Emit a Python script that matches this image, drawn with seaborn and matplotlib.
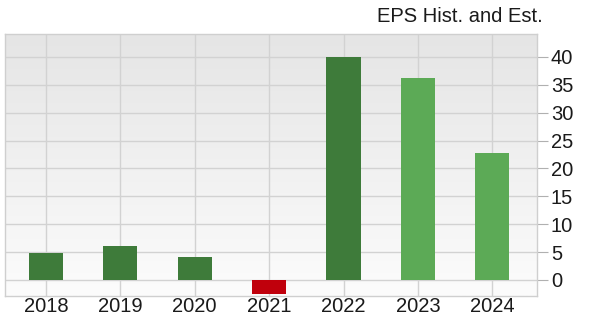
import numpy as np
import pandas as pd
import matplotlib
matplotlib.use("Agg")
import matplotlib.pyplot as plt
import seaborn as sns

years = ["2018", "2019", "2020", "2021", "2022", "2023", "2024"]
eps = [4.8, 6.1, 4.1, -2.6, 40.0, 36.2, 22.8]
bar_colors = ["#3e7b3a", "#3e7b3a", "#3e7b3a", "#c0000c", "#3e7b3a", "#5caa56", "#5caa56"]
y_ticks = [0, 5, 10, 15, 20, 25, 30, 35, 40]
title = "EPS Hist. and Est."

sns.set_theme(style="white")
plt.rcParams["font.family"] = ["Liberation Sans", "DejaVu Sans"]

df = pd.DataFrame({"year": years, "eps": eps})

fig = plt.figure(figsize=(6.01, 3.2), dpi=100)
ax = fig.add_axes([5 / 601, 24 / 320, 532 / 601, 262 / 320])

ylim = (-2.87, 44.1)
xlim = (-0.55, 6.6)

# background gradient (light gray at top to near white at bottom)
grad = np.linspace(0, 1, 256).reshape(-1, 1)
cmap = matplotlib.colors.LinearSegmentedColormap.from_list("bg", ["#e5e5e5", "#fcfcfc"])
ax.imshow(grad, extent=[xlim[0], xlim[1], ylim[0], ylim[1]], aspect="auto",
          cmap=cmap, zorder=0, origin="upper")

sns.barplot(data=df, x="year", y="eps", hue="year", palette=bar_colors,
            legend=False, width=0.46, ax=ax, zorder=3, saturation=1,
            edgecolor="none")

ax.set_xlim(*xlim)
ax.set_ylim(*ylim)
ax.set_xlabel("")
ax.set_ylabel("")

ax.yaxis.tick_right()
ax.set_yticks(y_ticks)
ax.set_yticklabels([str(t) for t in y_ticks])
ax.grid(True, color="#d2d2d2", linewidth=1.0, zorder=1)
ax.set_axisbelow(True)

ax.tick_params(axis="y", which="both", right=True, left=False, length=8,
               width=0.8, color="#b0b0b0", labelsize=14.5, labelcolor="#1a1a1a", pad=2)
ax.tick_params(axis="x", which="both", bottom=False, length=0,
               labelsize=14.5, labelcolor="#1a1a1a", pad=1)

for s in ax.spines.values():
    s.set_color("#cfcfcf")
    s.set_linewidth(1.0)

fig.text(543 / 601, 1 - 17 / 320, title, ha="right", va="center",
         fontsize=14.5, color="#1a1a1a")

fig.savefig("out.png", dpi=100)
